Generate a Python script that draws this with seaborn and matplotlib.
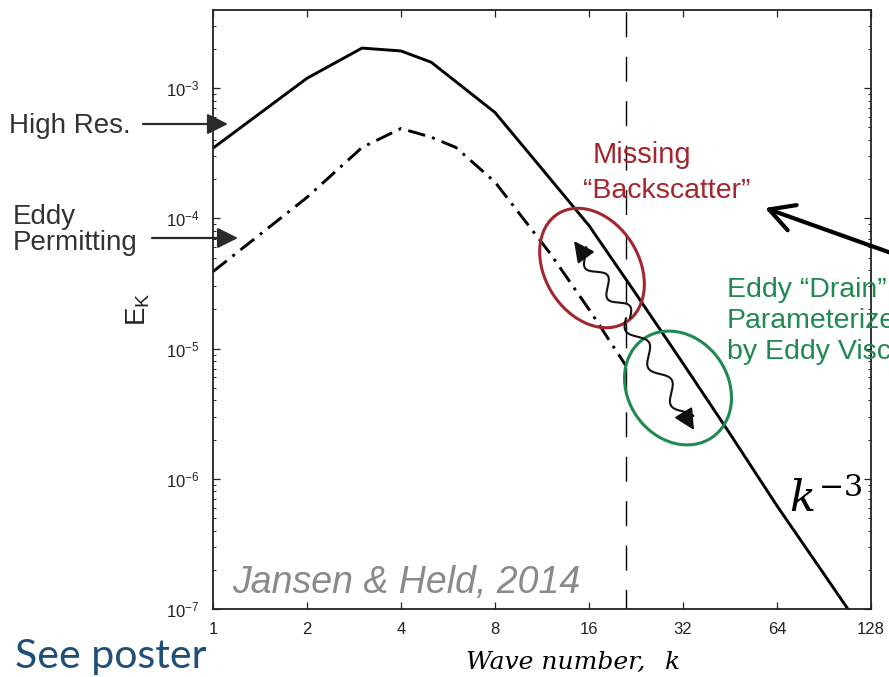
import numpy as np
import matplotlib
matplotlib.use("Agg")
import matplotlib.pyplot as plt
import matplotlib.patches as mpatches
import matplotlib.lines as mlines
import matplotlib.ticker as mticker
import seaborn as sns

# ---------------- data ----------------
k_high = [1, 2, 3, 4, 5, 6, 8, 11, 16, 22, 32, 45, 64, 90, 128]
e_high = [3.46e-4, 1.19e-3, 2.03e-3, 1.93e-3, 1.58e-3, 1.12e-3, 6.5e-4,
          2.6e-4, 8.8e-5, 2.9e-5, 7.7e-6, 2.26e-6, 6.2e-7, 1.89e-7, 5.5e-8]
k_eddy = [1, 2, 3, 4, 5, 6, 8, 12, 16, 21]
e_eddy = [3.9e-5, 1.45e-4, 3.5e-4, 4.9e-4, 4.2e-4, 3.5e-4, 1.9e-4,
          5.4e-5, 2.0e-5, 7.4e-6]
k_cutoff = 21
x_ticks = [1, 2, 4, 8, 16, 32, 64, 128]
x_tick_labels = ["1", "2", "4", "8", "16", "32", "64", "128"]
y_ticks = [1e-7, 1e-6, 1e-5, 1e-4, 1e-3]
y_limits = (1e-7, 10 ** -2.4)

# ---------------- style ----------------
sns.set_style("ticks", {"xtick.direction": "in", "ytick.direction": "in"})
plt.rcParams["font.family"] = ["Liberation Sans", "DejaVu Sans"]

W, H, DPI = 889, 677, 100
fig = plt.figure(figsize=(W / DPI, H / DPI), dpi=DPI)
fig.patch.set_facecolor("white")
ax = fig.add_axes([213 / W, 1 - 609 / H, (871 - 213) / W, (609 - 10) / H])

sns.lineplot(x=k_high, y=e_high, ax=ax, color="black", lw=2.1)
sns.lineplot(x=k_eddy, y=e_eddy, ax=ax, color="black", lw=2.1,
             linestyle=(0, (6, 2.5, 1, 2.5)))
ax.axvline(k_cutoff, color="black", lw=1.0, linestyle=(4, (18, 14)))

ax.set_xscale("log", base=2)
ax.set_yscale("log")
ax.set_xlim(1, 128)
ax.set_ylim(*y_limits)
ax.xaxis.set_major_locator(mticker.FixedLocator(x_ticks))
ax.xaxis.set_major_formatter(mticker.FixedFormatter(x_tick_labels))
ax.xaxis.set_minor_locator(mticker.NullLocator())
ax.yaxis.set_major_locator(mticker.FixedLocator(y_ticks))
ax.yaxis.set_minor_locator(mticker.LogLocator(base=10, subs=np.arange(2, 10), numticks=20))
ax.yaxis.set_minor_formatter(mticker.NullFormatter())
ax.tick_params(which="both", direction="in", top=True, right=True,
               colors="#222222", labelsize=12)
ax.tick_params(which="major", length=5, width=0.9)
ax.tick_params(which="minor", length=2.5, width=0.7)
ax.tick_params(axis="y", pad=10)
ax.tick_params(axis="x", pad=9)
for s in ax.spines.values():
    s.set_color("#222222")
    s.set_linewidth(1.3)
ax.set_xlabel("")
ax.set_ylabel(r"E$_\mathregular{K}$", fontsize=20, labelpad=10, color="#222222")


def ftext(x, y, s, **kw):
    fig.text(x / W, 1 - y / H, s, **kw)


def P(x, y):
    return (x / DPI, (H - y) / DPI)


tr = fig.dpi_scale_trans
HEAD = "-|>,head_length=0.9,head_width=0.45"

# left labels with arrows
ftext(9, 133, "High Res.", fontsize=20, va="baseline", color="#333333")
ftext(13, 224, "Eddy", fontsize=20, va="baseline", color="#333333")
ftext(13, 250, "Permitting", fontsize=20, va="baseline", color="#333333")
fig.add_artist(mpatches.FancyArrowPatch(P(143, 124), P(228, 124), transform=tr,
               arrowstyle=HEAD, mutation_scale=14, shrinkA=0, shrinkB=0,
               lw=1.6, color="#2a2a2a"))
fig.add_artist(mpatches.FancyArrowPatch(P(152, 238), P(238, 238), transform=tr,
               arrowstyle=HEAD, mutation_scale=14, shrinkA=0, shrinkB=0,
               lw=1.6, color="#2a2a2a"))

# citation / captions
ftext(232, 593, "Jansen & Held, 2014", fontsize=27, style="italic",
      color="#8a8a8a", va="baseline")
ftext(15, 668, "See poster", fontsize=29.5, family=["Lato", "DejaVu Sans"],
      color="#1F4E79", va="baseline")
ftext(466, 669, "Wave number,", fontsize=18, style="italic",
      family=["DejaVu Serif"], color="black", va="baseline")
ftext(665, 669, "k", fontsize=18, style="italic",
      family=["DejaVu Serif"], color="black", va="baseline")
fig.text(789 / W, 1 - 512 / H, r"$k^{-3}$", fontsize=31, math_fontfamily="dejavuserif",
         va="baseline", color="black")

# red / green annotations
red = "#A3262E"
green = "#1E8A50"
ftext(593, 163, "Missing", fontsize=21, color=red, va="baseline")
ftext(583, 198, "\u201cBackscatter\u201d", fontsize=20.5, color=red, va="baseline")
ftext(727, 297, "Eddy \u201cDrain\u201d", fontsize=20.5, color=green, va="baseline")
ftext(727, 328, "Parameterized", fontsize=20.5, color=green, va="baseline")
ftext(727, 359, "by Eddy Viscosity", fontsize=20.5, color=green, va="baseline")

fig.add_artist(mpatches.Ellipse(P(592, 268), 2 * 64 / DPI, 2 * 47 / DPI, angle=-58,
               transform=tr, fill=False, ec=red, lw=2.2))
fig.add_artist(mpatches.Ellipse(P(678, 388), 2 * 60 / DPI, 2 * 50 / DPI, angle=-55,
               transform=tr, fill=False, ec=green, lw=2.2))


def wavy(p0, p1, periods, amp, head_px=14, n=300):
    p0 = np.array(p0, float)
    p1 = np.array(p1, float)
    d = p1 - p0
    L = np.hypot(*d)
    u = d / L
    perp = np.array([-u[1], u[0]])
    t = np.linspace(0, 1, n)
    pts = p0 + t[:, None] * d + amp * np.sin(2 * np.pi * periods * t)[:, None] * perp
    keep = t * L <= L - head_px + 2
    disp = np.column_stack([pts[:, 0] / DPI, (H - pts[:, 1]) / DPI])
    fig.add_artist(mlines.Line2D(disp[keep, 0], disp[keep, 1], transform=tr,
                                 color="#111111", lw=1.5))
    start = p1 - u * head_px
    fig.add_artist(mpatches.FancyArrowPatch(P(*start), P(*p1), transform=tr,
                   arrowstyle=HEAD, mutation_scale=14, shrinkA=0, shrinkB=0,
                   lw=1.5, color="#111111"))


wavy((630, 318), (574, 241), 2.5, 7)
wavy((626, 318), (694, 430), 3.0, 7)

# black arrow pointing at "Backscatter"
fig.add_artist(mpatches.FancyArrowPatch(P(950, 274), P(765, 208), transform=tr,
               arrowstyle="->,head_length=1.1,head_width=0.6", mutation_scale=16,
               shrinkA=0, shrinkB=0, lw=3.0, color="black"))

fig.savefig("out.png", dpi=DPI, facecolor="white")
